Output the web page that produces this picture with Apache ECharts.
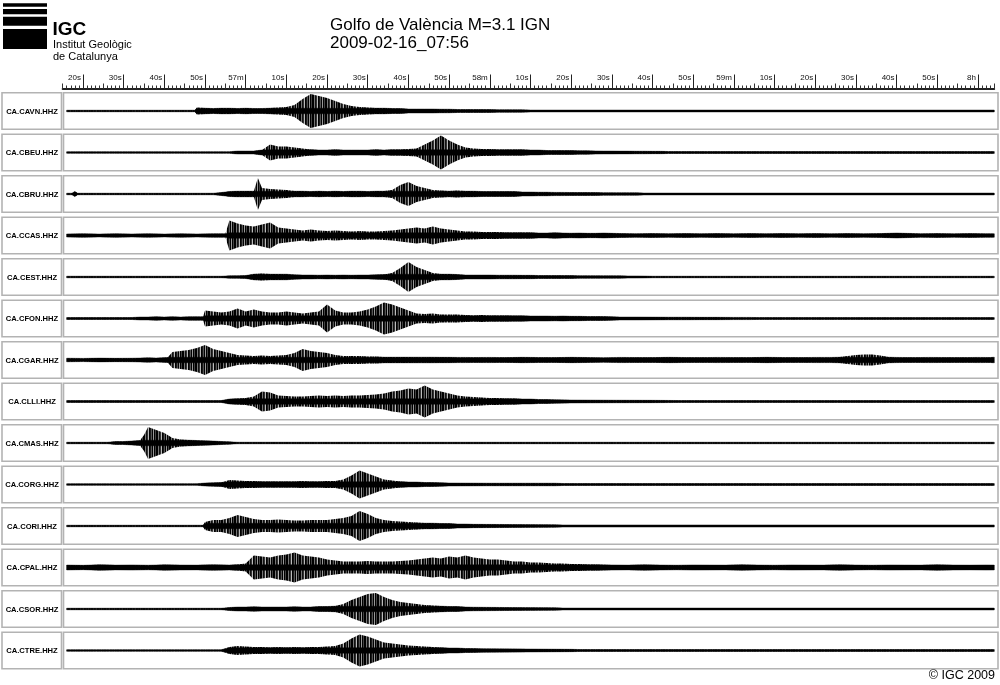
<!DOCTYPE html>
<html><head><meta charset="utf-8">
<script src="https://cdn.jsdelivr.net/npm/echarts@6/dist/echarts.min.js"></script>
<style>html,body{margin:0;padding:0;background:#fff}#c{width:1000px;height:685px}</style>
</head><body><div id="c"></div>
<script>
// ---- data: station names, envelope amplitudes [seconds after 07:56:00, half-amplitude], ruler ticks ----
const stations = ['CA.CAVN.HHZ','CA.CBEU.HHZ','CA.CBRU.HHZ','CA.CCAS.HHZ','CA.CEST.HHZ','CA.CFON.HHZ','CA.CGAR.HHZ',
  'CA.CLLI.HHZ','CA.CMAS.HHZ','CA.CORG.HHZ','CA.CORI.HHZ','CA.CPAL.HHZ','CA.CSOR.HHZ','CA.CTRE.HHZ'];

const CAVN = [[16,0.8],[47.5,0.8],[48,3.5],[50,3],[52,2.5],[54,3],[56,3],[58,2.5],[60,3],[62,2.5],[64,2.5],[66,3],[68,3.5],[70,4],
  [72,6],[74,12],[76,17],[78,15],[80,13],[82,10],[84,7],[86,5],[88,4],[90,3.5],[92,3],[94,3],[96,2.5],[98,2.5],[100,2],[102,2],[104,2],
  [106,2],[108,1.8],[110,1.8],[112,1.5],[114,1.5],[116,1.5],[118,1.5],[120,1.5],[122,1.3],[124,1.3],[126,1.3],[128,1.2],[130,1],[244,1]];
const CBEU = [[16,0.8],[56,0.8],[58,1.5],[60,1.5],[62,1.5],[64,2.5],[66,8],[68,6],[70,6],[72,5],[74,4],[76,3],[78,2.5],[80,2.5],[82,3],
  [84,2.5],[86,2.5],[88,2.5],[90,2.5],[92,3],[94,2.5],[96,3],[98,3],[100,3.5],[102,4],[104,8],[106,12],[108,17],[110,12],[112,8],[114,5],
  [116,4],[118,3.5],[120,3.5],[122,3],[124,3],[126,3],[128,3],[130,2.5],[132,2.5],[134,2],[136,2],[138,2],[140,2],[142,1.8],[144,1.8],
  [146,1.6],[148,1.5],[150,1.5],[152,1.4],[154,1.4],[156,1.3],[158,1.3],[160,1.2],[162,1.2],[164,1],[244,1]];
const CBRU = [[16,0.8],[17.3,0.8],[18,2.5],[18.7,0.8],[52,0.8],[54,1.5],[56,2.5],[58,3],[60,3],[62,3],[63,16],[64,6],[66,5],[68,4.5],
  [70,4],[72,3],[74,3],[76,2.5],[78,3],[80,2.5],[82,3],[84,2.5],[86,3],[88,3],[90,2.5],[92,3],[94,3],[96,4],[98,9],[100,12],[102,8],
  [104,6],[106,4],[108,3.5],[110,3],[112,3.5],[114,3],[116,3],[118,2.5],[120,2.5],[122,2.5],[124,2.5],[126,2.5],[128,2],[130,2],
  [132,1.8],[134,1.8],[136,1.6],[138,1.6],[140,1.5],[142,1.5],[144,1.4],[146,1.4],[148,1.3],[150,1.3],[152,1.2],[156,1.2],[158,1],[244,1]];
const CCAS = [[16,1.6],[20,1.8],[24,1.5],[28,1.8],[32,1.6],[36,1.8],[40,1.5],[44,1.7],[48,1.6],[52,1.8],[55,1.7],[56,15],[58,12],
  [60,10],[62,9],[64,11],[66,13],[68,8],[70,7],[72,6],[74,5],[76,6],[78,5],[80,4.5],[82,5],[84,4.5],[86,4],[88,4.5],[90,4],[92,4],
  [94,4.5],[96,5],[98,6],[100,7],[102,8],[104,7],[106,9],[108,7],[110,6],[112,5],[114,4],[116,4],[118,3.5],[120,3.5],[122,3.5],
  [124,3],[126,3],[128,3],[130,3],[132,2.5],[134,2.5],[136,2.8],[138,2.5],[140,2.3],[142,2.5],[144,2.2],[146,2.2],[148,2.5],[150,2.2],
  [152,2],[156,1.8],[160,2],[164,1.8],[168,2],[172,1.8],[176,2],[180,1.7],[184,1.9],[188,1.8],[192,2],[196,1.8],[200,1.9],[204,1.7],
  [208,1.9],[212,1.8],[216,1.9],[220,2.5],[222,2.2],[226,1.8],[230,1.9],[234,1.7],[238,1.9],[242,1.8],[244,1.8]];
const CEST = [[16,0.8],[54,0.8],[56,1.2],[58,1.3],[60,1.5],[62,3],[64,3.5],[66,3],[68,3],[70,2.8],[72,2.2],[74,2],[76,2],[78,1.8],
  [80,2],[82,1.8],[84,2],[86,1.8],[88,2],[90,2],[92,2.2],[94,2.5],[96,4],[98,9],[100,15],[102,10],[104,7],[106,4],[108,3],[110,3],
  [112,2.5],[114,2],[116,2],[118,2],[120,2],[122,1.8],[124,1.8],[126,1.8],[128,1.7],[130,1.7],[132,1.5],[134,1.5],[136,1.5],[138,1.4],
  [140,1.4],[142,1.3],[144,1.3],[146,1.3],[148,1.2],[150,1.2],[152,1.2],[154,1.1],[156,1.1],[158,1],[160,0.8],[244,0.8]];
const CFON = [[16,1],[32,1],[34,1.5],[36,1.5],[38,1.8],[40,1.5],[42,1.8],[44,1.5],[46,1.8],[49.5,1.8],[50,8],[52,7],[54,6],[56,7],
  [58,10],[60,7],[62,9],[64,7],[66,6],[68,6],[70,7],[72,6],[74,5],[76,6],[78,7],[80,14],[82,8],[84,6],[86,6],[88,7],[90,9],[92,12],
  [94,16],[96,14],[98,11],[100,8],[102,5],[104,4.5],[106,5],[108,4],[110,4],[112,4],[114,3.5],[116,3],[118,3.5],[120,3],[122,3],
  [124,3],[126,2.8],[128,2.8],[130,2.5],[132,2.5],[134,2.5],[136,2.3],[138,2.5],[140,2.2],[142,2.2],[144,2],[146,2],[148,2],[150,1.8],
  [152,1.5],[156,1.5],[160,1.4],[164,1.3],[168,1.3],[172,1.2],[176,1.2],[180,1.1],[184,1.1],[186,0.9],[244,0.9]];
const CGAR = [[16,1.8],[20,1.6],[24,1.9],[28,1.7],[32,1.8],[34,2],[36,2.2],[38,2],[40.8,2.5],[42,8],[44,9],[46,10],[48,12],[50,15],
  [52,11],[54,9],[56,7],[58,5],[60,4.5],[62,4],[64,4.5],[66,4],[68,4.5],[70,5],[72,7],[74,11],[76,9],[78,8],[80,7],[82,5],[84,4],
  [86,4],[88,4],[90,3.5],[92,3.5],[94,3],[96,3],[98,3],[100,3],[102,2.8],[104,2.8],[106,2.8],[108,2.7],[110,2.7],[112,2.6],[114,2.6],
  [116,2.5],[120,2.6],[124,2.4],[128,2.7],[132,2.5],[136,2.4],[140,2.7],[144,2.5],[148,2.3],[152,2.6],[156,2.5],[160,2.4],[164,2.7],
  [168,2.5],[172,2.4],[176,2.6],[180,2.5],[184,2.4],[188,2.7],[192,2.5],[196,2.4],[200,2.6],[204,2.6],[206,3],[208,4],[210,5],
  [212,5.5],[214,5.5],[216,4.5],[218,3],[220,2.6],[224,2.4],[228,2.6],[232,2.5],[236,2.4],[240,2.6],[243,2.5],[244,3]];
const CLLI = [[16,1],[54,1],[56,2.5],[58,3],[60,3.5],[62,5],[64,10],[66,9],[68,6],[70,5.5],[72,5],[74,5],[76,5.5],[78,6],[80,5.5],
  [82,6],[84,5.5],[86,6],[88,6],[90,6.5],[92,7],[94,8],[96,10],[98,11],[100,13],[102,12],[104,16],[106,12],[108,10],[110,8],[112,6],
  [114,5],[116,4.5],[118,4],[120,3.5],[122,3.5],[124,3],[126,3],[128,2.5],[130,2.5],[132,2],[134,2],[136,1.8],[140,1.5],[150,1.3],
  [160,1.2],[166,1],[244,1]];
const CMAS = [[16,0.8],[26,0.8],[28,1.5],[30,1.5],[32,2],[34,2.5],[35,8],[36,16],[38,13],[40,10],[42,5],[44,3.5],[46,3],[48,2.5],
  [50,2.2],[52,2],[54,1.5],[56,1.2],[58,0.8],[244,0.8]];
const CORG = [[16,0.8],[48,0.8],[50,1.5],[52,1.8],[54,2],[56,4.5],[58,4],[60,3.5],[62,3.5],[64,3],[66,3],[68,3],[70,3],[72,3],
  [74,3.5],[76,3],[78,3],[80,3.5],[82,3.5],[84,5],[86,9],[88,14],[90,11],[92,8],[94,5],[96,4],[98,3],[100,2.5],[102,2.5],[104,2],
  [106,2],[108,1.8],[110,1.5],[120,1.3],[136,1.3],[138,1],[244,1]];
const CORI = [[16,0.8],[49.5,0.8],[50,4],[52,6],[54,6],[56,8],[58,11],[60,9],[62,7],[64,6],[66,6],[68,6.5],[70,6],[72,5.5],[74,5.5],
  [76,6],[78,6],[80,6],[82,7],[84,8],[86,10],[88,15],[90,12],[92,8],[94,6],[96,5],[98,4.5],[100,4],[102,3.5],[104,3],[106,3],[108,2.5],
  [110,2.5],[112,2],[114,2],[116,1.7],[124,1.5],[136,1.3],[138,1.1],[244,1.1]];
const CPAL = [[16,2.5],[20,2.2],[24,2.8],[28,2.4],[32,2.6],[36,2.3],[40,2.7],[44,2.5],[48,2.4],[52,2.8],[56,2.5],[58,3],[60,4],[62,12],
  [64,11],[66,10],[68,12],[70,13],[72,15],[74,12],[76,11],[78,10],[80,8],[82,7],[84,6],[86,6],[88,6],[90,6.5],[92,6],[94,6],[96,6],
  [98,6.5],[100,7],[102,8],[104,9],[106,10],[108,9],[110,11],[112,10],[114,12],[116,10],[118,9],[120,8],[122,8],[124,7],[126,6],
  [128,6],[130,5],[132,5],[134,4.5],[136,4],[138,4],[140,3.5],[142,3.5],[144,3],[146,3],[150,2.6],[154,2.4],[158,2.7],[162,2.5],
  [166,2.3],[170,2.6],[174,2.5],[178,2.4],[182,2.7],[186,2.5],[190,2.3],[194,2.6],[198,2.5],[202,2.4],[206,2.7],[210,2.5],[214,2.3],
  [218,2.6],[222,2.5],[226,2.4],[230,2.7],[234,2.5],[238,2.4],[242,2.6],[244,2.5]];
const CSOR = [[16,0.8],[54,0.8],[56,1.5],[58,2],[60,2],[62,2.2],[64,2],[66,2],[68,2],[70,2],[72,2.2],[74,2],[76,2],[78,2.5],[80,2.5],
  [82,3],[84,5],[86,9],[88,12],[90,15],[92,16],[94,12],[96,9],[98,7],[100,6],[102,5],[104,4],[106,3.5],[108,3],[110,2.5],[112,2.5],
  [114,2],[116,1.8],[124,1.5],[136,1.3],[138,1],[244,1]];
const CTRE = [[16,0.8],[54,0.8],[56,3.5],[58,4.5],[60,4],[62,3.5],[64,3.5],[66,3],[68,3.5],[70,3],[72,3.5],[74,3],[76,3.5],[78,3.5],
  [80,4],[82,4.5],[84,7],[86,12],[88,16],[90,14],[92,11],[94,8],[96,7],[98,6],[100,5],[102,4.5],[104,4],[106,3.5],[108,3],[110,2.5],
  [112,2.5],[114,2],[116,2],[118,1.8],[130,1.5],[140,1.2],[142,1],[244,1]];

const traces = [CAVN, CBEU, CBRU, CCAS, CEST, CFON, CGAR, CLLI, CMAS, CORG, CORI, CPAL, CSOR, CTRE];

const tickValues = [20,30,40,50,60,70,80,90,100,110,120,130,140,150,160,170,180,190,200,210,220,230,240];
const tickLabels = ['20s','30s','40s','50s','57m','10s','20s','30s','40s','50s','58m','10s','20s','30s','40s','50s','59m',
  '10s','20s','30s','40s','50s','8h'];

const titleLine1 = 'Golfo de València M=3.1 IGN';
const titleLine2 = '2009-02-16_07:56';
const orgName = 'IGC';
const orgLine1 = 'Institut Geològic';
const orgLine2 = 'de Catalunya';
const copyright = '© IGC 2009';

// ---- layout / style ----
const FONT = '"Liberation Sans", Arial, Helvetica, sans-serif';
const ROW_TOP = 92.7, ROW_PITCH = 41.5, ROW_H = 36.6;
const T_MIN = 15.21, T_MAX = 244.93;   // trace box 63.5 .. 998 px
const BOX_COLOR = '#b3b3b3';
const CORE = 2.8;  // solid core half-width of the drawn trace (px)

// irregular striped fill imitating the dense oscillation of a seismogram
const pat = document.createElement('canvas');
pat.width = 13; pat.height = 4;
(function () {
  const c = pat.getContext('2d');
  const cols = ['#000', '#000', '#777', '#111', '#333', '#bbb', '#000', '#1a1a1a', '#555', '#000', '#999', '#000', '#444'];
  cols.forEach((col, i) => { c.fillStyle = col; c.fillRect(i, 0, 1, 4); });
})();

const grids = [], xAxes = [], yAxes = [], series = [], graphics = [];

traces.forEach((tr, k) => {
  const top = ROW_TOP + k * ROW_PITCH;
  grids.push({left: 63.5, right: 2, top: top, height: ROW_H, show: true, borderColor: BOX_COLOR, borderWidth: 1.6,
    backgroundColor: '#fff'});
  xAxes.push({gridIndex: k, type: 'value', min: T_MIN, max: T_MAX, show: false});
  yAxes.push({gridIndex: k, type: 'value', min: -ROW_H / 2, max: ROW_H / 2, show: false});
  series.push({
    type: 'custom', xAxisIndex: k, yAxisIndex: k, silent: true, animation: false,
    dimensions: ['t', 'a'], encode: {x: 0, y: 1},
    data: tr,
    renderItem: (params, api) => {
      if (params.dataIndex !== 0) return null;
      const up = [], lo = [], cu = [], cl = [];
      tr.forEach(p => {
        up.push(api.coord([p[0], p[1]]));
        lo.push(api.coord([p[0], -p[1]]));
        const c = Math.min(p[1], CORE);
        cu.push(api.coord([p[0], c]));
        cl.push(api.coord([p[0], -c]));
      });
      return {type: 'group', children: [
        {type: 'polygon', shape: {points: up.concat(lo.reverse())},
          style: {fill: {image: pat, repeat: 'repeat'}, lineWidth: 0}},
        {type: 'polygon', shape: {points: cu.concat(cl.reverse())}, style: {fill: '#000', stroke: '#000', lineWidth: 0.4}}
      ]};
    }
  });
  // station label box
  graphics.push({type: 'rect', shape: {x: 2, y: top, width: 59.5, height: ROW_H},
    style: {fill: '#fff', stroke: BOX_COLOR, lineWidth: 1.6}, z: 10});
  graphics.push({type: 'text', x: 32, y: top + ROW_H / 2 + 0.5,
    style: {text: stations[k], font: 'bold 7.6px ' + FONT, fill: '#000', textAlign: 'center', textVerticalAlign: 'middle'}, z: 11});
});

// ruler (time axis)
const RK = traces.length;
grids.push({left: 62.66, right: 5.8, top: 70, height: 18.5, show: false});
yAxes.push({gridIndex: RK, type: 'value', show: false, min: 0, max: 1});
xAxes.push({gridIndex: RK, type: 'value', min: 15, max: 244, interval: 1, position: 'bottom',
  axisLine: {show: true, onZero: false, lineStyle: {color: '#222', width: 2}},
  axisTick: {show: true, inside: true, length: 3, lineStyle: {color: '#333', width: 1}},
  axisLabel: {show: false}, splitLine: {show: false}});
xAxes.push({gridIndex: RK, type: 'value', min: 15, max: 244, interval: 5, position: 'bottom',
  axisLine: {show: false, onZero: false},
  axisTick: {show: true, inside: true, length: 5, lineStyle: {color: '#333', width: 1}},
  axisLabel: {show: false}, splitLine: {show: false}});
xAxes.push({gridIndex: RK, type: 'value', min: 15, max: 244, position: 'bottom',
  axisLine: {show: false, onZero: false},
  axisTick: {show: true, inside: true, length: 14, customValues: tickValues, lineStyle: {color: '#222', width: 1}},
  axisLabel: {show: true, inside: true, customValues: tickValues, margin: 7, fontSize: 8, color: '#111', fontFamily: FONT,
    align: 'right', padding: [0, 2, 0, 0],
    formatter: v => { const i = tickValues.indexOf(v); return i >= 0 ? tickLabels[i] : ''; }},
  splitLine: {show: false}});

// logo
[[3, 3.3, 44, 3.4], [3, 9, 44, 5.3], [3, 16.7, 44, 9], [3, 29, 44, 20]].forEach(r => {
  graphics.push({type: 'rect', shape: {x: r[0], y: r[1], width: r[2], height: r[3]}, style: {fill: '#000'}});
});
graphics.push({type: 'text', x: 52.5, y: 29.5, style: {text: orgName, font: 'bold 19px ' + FONT, fill: '#000', textVerticalAlign: 'middle'}});
graphics.push({type: 'text', x: 53, y: 45, style: {text: orgLine1, font: '11px ' + FONT, fill: '#000', textVerticalAlign: 'middle'}});
graphics.push({type: 'text', x: 53, y: 57.3, style: {text: orgLine2, font: '11px ' + FONT, fill: '#000', textVerticalAlign: 'middle'}});
// titles
graphics.push({type: 'text', x: 330, y: 25.5, style: {text: titleLine1, font: '17px ' + FONT, fill: '#000', textVerticalAlign: 'middle'}});
graphics.push({type: 'text', x: 330, y: 43.5, style: {text: titleLine2, font: '17px ' + FONT, fill: '#000', textVerticalAlign: 'middle'}});
graphics.push({type: 'text', x: 995, y: 676, style: {text: copyright, font: '12.5px ' + FONT, fill: '#000', textAlign: 'right', textVerticalAlign: 'middle'}});

const chart = echarts.init(document.getElementById('c'), null, {renderer: 'canvas'});
chart.setOption({
  animation: false,
  backgroundColor: '#fff',
  grid: grids, xAxis: xAxes, yAxis: yAxes, series: series,
  graphic: {elements: graphics}
});
</script></body></html>
